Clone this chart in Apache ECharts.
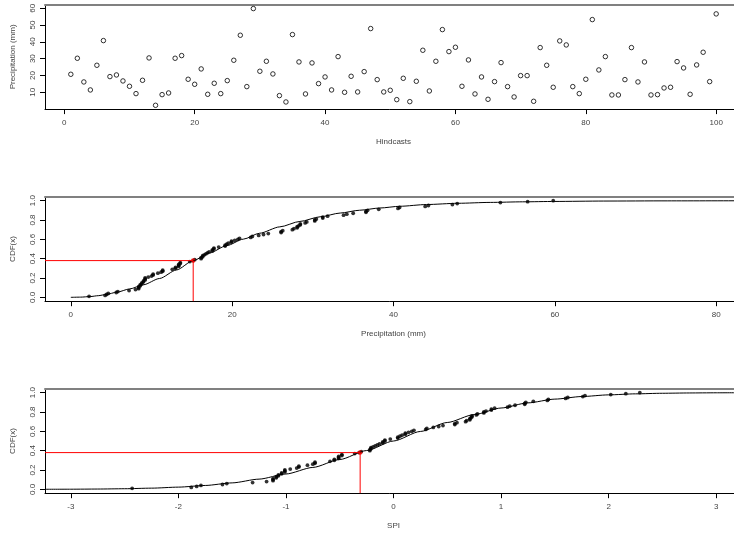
<!DOCTYPE html>
<html>
<head>
<meta charset="utf-8">
<script src="https://cdn.jsdelivr.net/npm/echarts@6/dist/echarts.min.js"></script>
<style>
  html, body { margin: 0; padding: 0; background: #fff; }
  #chart { width: 734px; height: 535px; }
</style>
</head>
<body>
<div id="chart"></div>
<script>
// Precipitation (mm) for hindcasts 1..100
const hindcastPrecip = [
  20.71, 30.24, 16.15, 11.39, 26.07, 40.75, 19.33, 20.32, 16.75, 13.57,
  9.21, 17.14, 30.44, 2.26, 8.61, 9.60, 30.24, 31.83, 17.74, 14.76,
  23.89, 8.81, 15.36, 9.21, 16.94, 29.05, 43.93, 13.37, 59.80, 22.50,
  28.45, 20.91, 8.02, 4.25, 44.33, 28.06, 9.01, 27.46, 15.17, 19.13,
  11.39, 31.23, 10.00, 19.52, 10.20, 22.30, 47.90, 17.54, 10.20, 11.19,
  5.63, 18.33, 4.44, 16.55, 35.00, 10.79, 28.45, 47.30, 34.21, 36.79,
  13.57, 29.25, 9.01, 19.13, 5.83, 16.35, 27.66, 13.37, 7.22, 19.92,
  19.92, 4.64, 36.59, 26.07, 12.98, 40.56, 38.17, 13.37, 9.21, 17.74,
  53.25, 23.29, 31.23, 8.41, 8.41, 17.54, 36.59, 16.15, 28.06, 8.41,
  8.61, 12.58, 12.98, 28.25, 24.48, 8.81, 26.27, 33.81, 16.35, 56.63
];

// SPI of each observation, in ascending order of precipitation
const spiSorted = [
  -2.43, -1.88, -1.83, -1.79, -1.59, -1.55, -1.31, -1.18, -1.12, -1.12,
  -1.12, -1.09, -1.09, -1.07, -1.07, -1.04, -1.04, -1.01, -1.01, -1.01,
  -0.96, -0.90, -0.88, -0.88, -0.80, -0.75, -0.73, -0.73, -0.59, -0.55,
  -0.55, -0.51, -0.51, -0.51, -0.48, -0.48, -0.36, -0.32, -0.30, -0.22,
  -0.22, -0.21, -0.21, -0.19, -0.17, -0.15, -0.13, -0.10, -0.10, -0.08,
  -0.08, -0.03, 0.04, 0.04, 0.06, 0.08, 0.11, 0.11, 0.14, 0.17,
  0.19, 0.30, 0.31, 0.37, 0.42, 0.46, 0.57, 0.57, 0.59, 0.67,
  0.68, 0.71, 0.71, 0.72, 0.73, 0.73, 0.77, 0.78, 0.84, 0.84,
  0.86, 0.91, 0.91, 0.94, 1.06, 1.08, 1.13, 1.22, 1.22, 1.23,
  1.30, 1.43, 1.44, 1.60, 1.62, 1.76, 1.78, 2.02, 2.16, 2.29
];

// Fitted gamma CDF of precipitation
const gammaCurveX = [0, 1.2, 2.4, 3.4, 4.4, 5.7, 7.3, 9.0, 11.0, 13.1, 15.17, 17.2, 19.3, 21.4, 23.4, 25.9,
  28.4, 30.9, 33.4, 35.8, 38.3, 40.8, 44.1, 48, 52, 56, 60, 66, 74, 83.2];
const gammaCurveP = [0, 0.002, 0.008, 0.017, 0.030, 0.053, 0.087, 0.130, 0.195, 0.283, 0.380, 0.459, 0.534, 0.602, 0.663, 0.729,
  0.785, 0.833, 0.872, 0.901, 0.924, 0.942, 0.960, 0.973, 0.982, 0.988, 0.992, 0.996, 0.998, 0.999];

// Standard normal CDF
const normalCurveX = [-3.24, -3.0, -2.75, -2.5, -2.25, -2.0, -1.75, -1.5, -1.25, -1.0, -0.75, -0.5, -0.25, 0,
  0.25, 0.5, 0.75, 1.0, 1.25, 1.5, 1.75, 2.0, 2.25, 2.5, 2.75, 3.0, 3.24];
const normalCurveP = [0.0006, 0.0013, 0.0030, 0.0062, 0.0122, 0.0228, 0.0401, 0.0668, 0.1056, 0.1587, 0.2266, 0.3085, 0.4013, 0.5,
  0.5987, 0.6915, 0.7734, 0.8413, 0.8944, 0.9332, 0.9599, 0.9772, 0.9878, 0.9938, 0.9970, 0.9987, 0.9994];

// Highlighted observation: precipitation, its CDF value and SPI
const highlightPrecip = 15.17;
const highlightProb = 0.38;
const highlightSpi = -0.31;

// Tick labels
const hindcastTicks = [0, 20, 40, 60, 80, 100];
const precipTicks = [10, 20, 30, 40, 50, 60];
const precipAxisTicks = [0, 20, 40, 60, 80];
const spiTicks = [-3, -2, -1, 0, 1, 2, 3];
const cdfTicks = [0, 0.2, 0.4, 0.6, 0.8, 1.0];

const FONT = "'Liberation Sans', Arial, Helvetica, sans-serif";
const TEXT = '#444';

const hindcastPoints = hindcastPrecip.map((v, i) => [i + 1, v]);
const ranked = hindcastPrecip.slice().sort((a, b) => a - b);
const ecdfPoints = ranked.map((v, i) => [v, (i + 1) / ranked.length]);
const spiPoints = spiSorted.map((s, i) => [s, (i + 1) / spiSorted.length]);
const gammaCurve = gammaCurveX.map((x, i) => [x, gammaCurveP[i]]);
const normalCurve = normalCurveX.map((x, i) => [x, normalCurveP[i]]);

const ranges = [
  { x: [-2.96, 103.96], y: [0, 62.1] },
  { x: [-3.2, 83.2], y: [-0.04, 1.04] },
  { x: [-3.24, 3.24], y: [-0.04, 1.04] }
];

function bottomAxis(gi, ticks, name) {
  return {
    type: 'value', gridIndex: gi, position: 'bottom',
    min: ranges[gi].x[0], max: ranges[gi].x[1],
    name: name, nameLocation: 'middle', nameGap: 29,
    nameTextStyle: { fontFamily: FONT, fontSize: 8, color: TEXT },
    axisLine: { show: true, onZero: false, lineStyle: { color: '#000', width: 1 } },
    axisTick: { show: true, customValues: ticks, length: 5, lineStyle: { color: '#000', width: 1 } },
    axisLabel: { show: true, customValues: ticks, margin: 10, fontFamily: FONT, fontSize: 8, color: TEXT,
      formatter: v => String(v) },
    splitLine: { show: false }
  };
}

function topEdge(gi) {
  return {
    type: 'value', gridIndex: gi, position: 'top',
    min: ranges[gi].x[0], max: ranges[gi].x[1],
    axisLine: { show: true, onZero: false, lineStyle: { color: '#808080', width: 2 } },
    axisTick: { show: false }, axisLabel: { show: false }, splitLine: { show: false }
  };
}

function leftAxis(gi, ticks, name, decimals) {
  return {
    type: 'value', gridIndex: gi, position: 'left',
    min: ranges[gi].y[0], max: ranges[gi].y[1],
    name: name, nameLocation: 'middle', nameGap: 28, nameRotate: 90,
    nameTextStyle: { fontFamily: FONT, fontSize: 8, color: TEXT },
    axisLine: { show: true, onZero: false, lineStyle: { color: '#000', width: 1 } },
    axisTick: { show: true, customValues: ticks, length: 5, lineStyle: { color: '#000', width: 1 } },
    axisLabel: { show: true, customValues: ticks, rotate: 90, margin: 8, fontFamily: FONT, fontSize: 8, color: TEXT,
      formatter: v => v.toFixed(decimals) },
    splitLine: { show: false }
  };
}

function gridAt(top) {
  return { left: 45, width: 697, top: top, height: 104.4, containLabel: false, outerBoundsMode: 'none' };
}

const dotStyle = { color: '#000' };

const option = {
  animation: false,
  backgroundColor: '#fff',
  grid: [gridAt(4.7), gridAt(196.8), gridAt(388.8)],
  xAxis: [
    bottomAxis(0, hindcastTicks, 'Hindcasts'),
    bottomAxis(1, precipAxisTicks, 'Precipitation (mm)'),
    bottomAxis(2, spiTicks, 'SPI'),
    topEdge(0), topEdge(1), topEdge(2)
  ],
  yAxis: [
    leftAxis(0, precipTicks, 'Precipitation (mm)', 0),
    leftAxis(1, cdfTicks, 'CDF(x)', 1),
    leftAxis(2, cdfTicks, 'CDF(x)', 1)
  ],
  series: [
    // hindcast precipitation
    { type: 'scatter', xAxisIndex: 0, yAxisIndex: 0, data: hindcastPoints,
      symbol: 'circle', symbolSize: 4.5,
      itemStyle: { color: '#fff', borderColor: '#000', borderWidth: 1 } },

    // empirical CDF and fitted gamma CDF
    { type: 'scatter', xAxisIndex: 1, yAxisIndex: 1, data: ecdfPoints,
      symbol: 'circle', symbolSize: 3.8, itemStyle: dotStyle },
    { type: 'line', xAxisIndex: 1, yAxisIndex: 1, data: gammaCurve,
      smooth: 0.25, smoothMonotone: 'x', showSymbol: false,
      lineStyle: { color: '#000', width: 1 } },
    { type: 'line', xAxisIndex: 1, yAxisIndex: 1, showSymbol: false,
      data: [[ranges[1].x[0], highlightProb], [highlightPrecip, highlightProb], [highlightPrecip, ranges[1].y[0]]],
      lineStyle: { color: '#ff0000', width: 1 } },
    { type: 'scatter', xAxisIndex: 1, yAxisIndex: 1, data: [[highlightPrecip, highlightProb]],
      symbol: 'circle', symbolSize: 4.5, itemStyle: { color: '#ff0000' } },

    // SPI against CDF with the standard normal CDF
    { type: 'scatter', xAxisIndex: 2, yAxisIndex: 2, data: spiPoints,
      symbol: 'circle', symbolSize: 3.8, itemStyle: dotStyle },
    { type: 'line', xAxisIndex: 2, yAxisIndex: 2, data: normalCurve,
      smooth: 0.25, smoothMonotone: 'x', showSymbol: false,
      lineStyle: { color: '#000', width: 1 } },
    { type: 'line', xAxisIndex: 2, yAxisIndex: 2, showSymbol: false,
      data: [[ranges[2].x[0], highlightProb], [highlightSpi, highlightProb], [highlightSpi, ranges[2].y[0]]],
      lineStyle: { color: '#ff0000', width: 1 } },
    { type: 'scatter', xAxisIndex: 2, yAxisIndex: 2, data: [[highlightSpi, highlightProb]],
      symbol: 'circle', symbolSize: 4.5, itemStyle: { color: '#ff0000' } }
  ]
};

const chart = echarts.init(document.getElementById('chart'), null, { renderer: 'canvas' });
chart.setOption(option);
</script>
</body>
</html>
